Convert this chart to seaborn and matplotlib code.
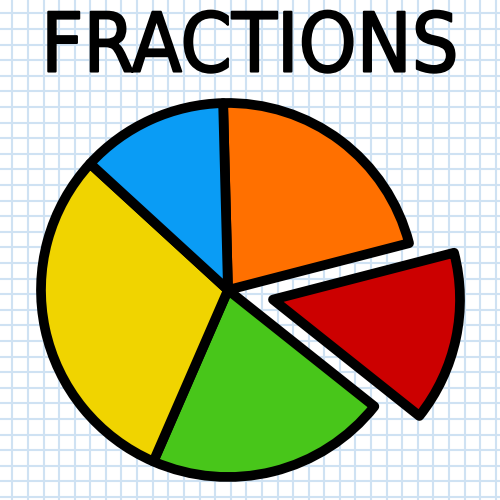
import numpy as np
import matplotlib
matplotlib.use("Agg")
import matplotlib.pyplot as plt
import matplotlib.patheffects as pe
import seaborn as sns

# slice sizes in degrees, clockwise from the top
slices = ["Orange", "Red", "Green", "Yellow", "Blue"]
sizes = [77, 53, 75, 109, 46]
colors = ["#ff7000", "#cc0000", "#48c61a", "#f0d400", "#0a9cf5"]
explode = [0, 46, 0, 0, 0]

sns.set_style("white")
plt.rcParams["font.family"] = ["DejaVu Sans"]

fig = plt.figure(figsize=(5, 5), dpi=100)
ax = fig.add_axes([0, 0, 1, 1])

ax.pie(
    sizes,
    colors=colors,
    explode=explode,
    startangle=91.5,
    counterclock=False,
    radius=187,
    center=(228, 210),
    wedgeprops=dict(edgecolor="black", linewidth=7, joinstyle="round"),
)

# graph paper background
ax.set_xlim(0, 500)
ax.set_ylim(0, 500)
ax.set_aspect("equal")
ax.set_xticks(np.arange(12.3, 500, 15.6))
ax.set_yticks(np.arange(3.0, 500, 15.6))
ax.tick_params(length=0, labelbottom=False, labelleft=False)
ax.grid(True, color="#cfe2f3", linewidth=1.5)
ax.set_axisbelow(True)
ax.set_frame_on(False)

ax.text(250, 451, "FRACTIONS", ha="center", va="center",
        fontsize=59, color="black", fontstretch="condensed",
        path_effects=[pe.withStroke(linewidth=1.5, foreground="black",
                                    capstyle="round", joinstyle="round")])

fig.savefig("out.png", dpi=100, facecolor="white")
